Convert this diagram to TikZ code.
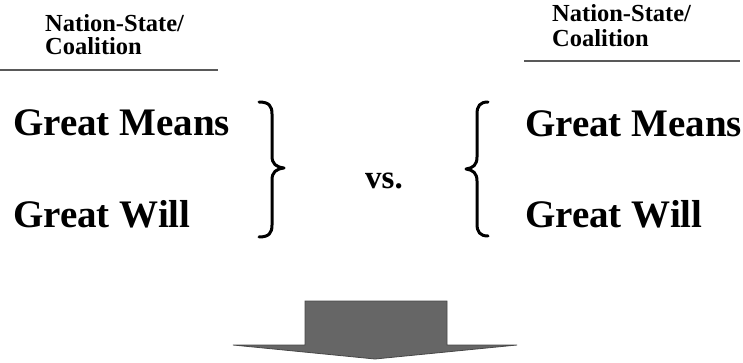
\documentclass[tikz,border=0pt]{standalone}
\usepackage{fontspec}
\setmainfont{Liberation Serif}
\tikzset{
	head/.style   = {anchor=base west, inner sep=0pt,
		font=\fontsize{24.5}{28}\selectfont\bfseries},
	big/.style    = {anchor=base west, inner sep=0pt,
		font=\fontsize{39}{44}\selectfont\bfseries},
	versus/.style = {anchor=base west, inner sep=0pt,
		font=\fontsize{33}{38}\selectfont\bfseries},
	rule/.style   = {draw=black!65, line width=1.3pt},
	curly/.style  = {line width=3pt, line cap=round, line join=round},
	bigarrow/.style = {fill=black!60, draw=black!72, line width=0.8pt}
}

\begin{document}
\begin{tikzpicture}[x=1pt, y=-1pt]
	\useasboundingbox (0,0) rectangle (743,363);

	% headers
	\node[head] (nsL) at (45,32) {Nation-State/};
	\node[head] (coL) at (45,55) {Coalition};
	\node[head] (nsR) at (552,22) {Nation-State/};
	\node[head] (coR) at (552,47) {Coalition};
	\draw[rule] (0,70) -- (218,70);
	\draw[rule] (524,61) -- (740,61);

	% both sides
	\node[big] (meansL) at (13,136) {Great Means};
	\node[big] (willL) at (13,227) {Great Will};
	\node[versus] (vs) at (365,189) {vs.};
	\node[big] (meansR) at (525,137) {Great Means};
	\node[big] (willR) at (525,227) {Great Will};

	% braces
	\draw[curly] (259,102) .. controls (269,102) and (272,106) .. (272,114)
		-- (272,156) .. controls (272,164) and (276,167) .. (284,168)
		.. controls (276,169) and (272,172) .. (272,180)
		-- (272,225) .. controls (272,233) and (269,237) .. (259,237);
	\draw[curly] (488,102) .. controls (480,102) and (477,106) .. (477,114)
		-- (477,157) .. controls (477,165) and (473,168) .. (466,169)
		.. controls (473,170) and (477,173) .. (477,181)
		-- (477,224) .. controls (477,232) and (480,236) .. (488,236);

	% arrow
	\draw[bigarrow] (305,301) -- (447,301) -- (447,345) -- (517,345)
		-- (375,359) -- (233,345) -- (305,345) -- cycle;
\end{tikzpicture}
\end{document}
